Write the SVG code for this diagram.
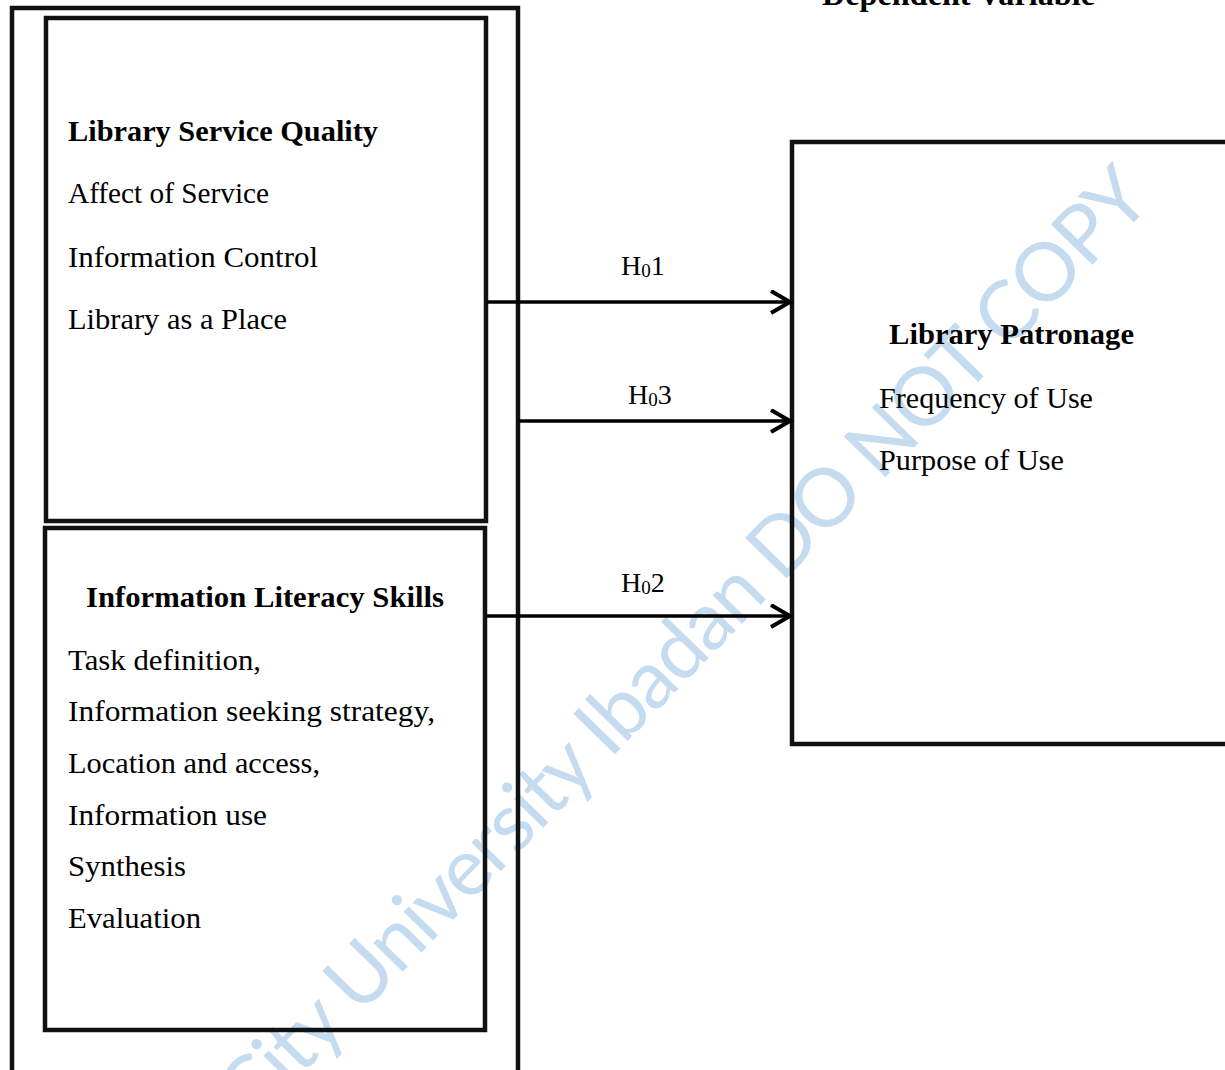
<svg xmlns="http://www.w3.org/2000/svg" width="1225" height="1070" viewBox="0 0 1225 1070">
  <defs>
    <style>
      .box { fill: none; stroke: #111; stroke-width: 4.5; }
      .t { font-family: "Liberation Serif", "Times New Roman", serif; font-size: 29px; fill: #000; }
      .b { font-weight: bold; }
      .lbl { font-family: "Liberation Serif", "Times New Roman", serif; font-size: 28px; fill: #000; }
      .sub { font-size: 19px; }
      .conn { stroke: #000; stroke-width: 3.5; fill: none; }
      .wm { font-family: Lato, "Open Sans", sans-serif; font-size: 81px; fill: #c5dbef; }
    </style>
    <marker id="arrow" markerUnits="userSpaceOnUse" markerWidth="24" markerHeight="28" refX="20" refY="12" orient="auto" viewBox="0 0 24 28">
      <path d="M1,1 L20,12 L1,23" fill="none" stroke="#000" stroke-width="4"/>
    </marker>
  </defs>
  <rect width="1225" height="1070" fill="#fff"/>

  <!-- watermark -->
  <text class="wm" x="252" y="1126" textLength="1292" lengthAdjust="spacing" transform="rotate(-45.7 252 1126)">City University Ibadan DO NOT COPY</text>

  <text class="t b" x="822" y="5" textLength="273" lengthAdjust="spacingAndGlyphs" style="font-size:32px">Dependent Variable</text>

  <g id="outer-group">
    <rect class="box" x="12" y="8" width="506" height="1100"/>
  </g>

  <g id="service-quality">
    <rect class="box" x="46" y="18" width="440" height="503"/>
    <text class="t b" x="68" y="141" textLength="310" lengthAdjust="spacingAndGlyphs">Library Service Quality</text>
    <text class="t" x="68" y="203" textLength="201" lengthAdjust="spacingAndGlyphs">Affect of Service</text>
    <text class="t" x="68" y="267" textLength="250" lengthAdjust="spacingAndGlyphs">Information Control</text>
    <text class="t" x="68" y="329" textLength="219" lengthAdjust="spacingAndGlyphs">Library as a Place</text>
  </g>

  <g id="info-literacy">
    <rect class="box" x="45" y="528" width="440" height="502"/>
    <text class="t b" x="86" y="607" textLength="358" lengthAdjust="spacingAndGlyphs">Information Literacy Skills</text>
    <text class="t" x="68" y="670" textLength="193" lengthAdjust="spacingAndGlyphs">Task definition,</text>
    <text class="t" x="68" y="721" textLength="367" lengthAdjust="spacingAndGlyphs">Information seeking strategy,</text>
    <text class="t" x="68" y="773" textLength="252" lengthAdjust="spacingAndGlyphs">Location and access,</text>
    <text class="t" x="68" y="825" textLength="199" lengthAdjust="spacingAndGlyphs">Information use</text>
    <text class="t" x="68" y="876" textLength="118" lengthAdjust="spacingAndGlyphs">Synthesis</text>
    <text class="t" x="68" y="928" textLength="133" lengthAdjust="spacingAndGlyphs">Evaluation</text>
  </g>

  <g id="library-patronage">
    <rect class="box" x="792" y="142" width="500" height="602"/>
    <text class="t b" x="889" y="344" textLength="245" lengthAdjust="spacingAndGlyphs">Library Patronage</text>
    <text class="t" x="879" y="408" textLength="214" lengthAdjust="spacingAndGlyphs">Frequency of Use</text>
    <text class="t" x="879" y="470" textLength="185" lengthAdjust="spacingAndGlyphs">Purpose of Use</text>
  </g>

  <g id="connectors">
    <line class="conn" x1="487" y1="302" x2="790" y2="302" marker-end="url(#arrow)"/>
    <line class="conn" x1="519" y1="421" x2="790" y2="421" marker-end="url(#arrow)"/>
    <line class="conn" x1="487" y1="616" x2="790" y2="616" marker-end="url(#arrow)"/>
    <text class="lbl" x="621" y="275">H<tspan class="sub" dy="2">0</tspan><tspan dy="-2">1</tspan></text>
    <text class="lbl" x="628" y="404">H<tspan class="sub" dy="2">0</tspan><tspan dy="-2">3</tspan></text>
    <text class="lbl" x="621" y="592">H<tspan class="sub" dy="2">0</tspan><tspan dy="-2">2</tspan></text>
  </g>
</svg>
